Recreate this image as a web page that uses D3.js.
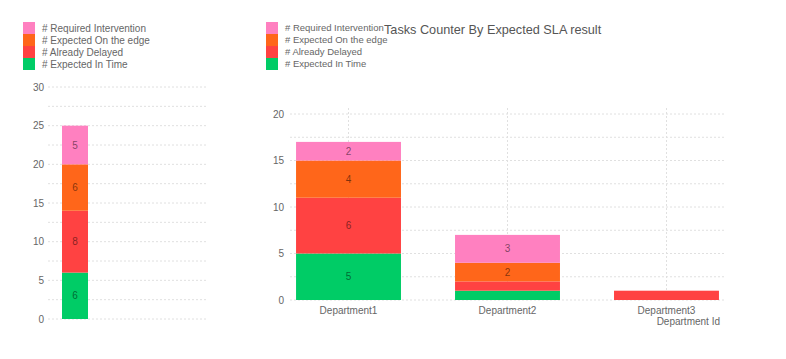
<!DOCTYPE html>
<html><head><meta charset="utf-8">
<script src="https://cdn.jsdelivr.net/npm/d3@7"></script>
<style>body{margin:0;background:#fff;} svg{display:block;font-family:"Liberation Sans",Arial,sans-serif;}</style>
</head><body>
<svg id="c" width="786" height="359"></svg>
<script>
const seriesNames = ["# Expected  In Time", "# Already Delayed", "# Expected On the edge", "# Required Intervention"];
const seriesColors = ["#00cc66", "#ff4242", "#ff661a", "#ff80c0"];
const totalValues = [6, 8, 6, 5];
const departments = ["Department1", "Department2", "Department3"];
const inTime = [5, 1, 0];
const delayed = [6, 1, 1];
const onEdge = [4, 2, 0];
const required = [2, 3, 0];
const leftTicks = [0, 5, 10, 15, 20, 25, 30];
const rightTicks = [0, 5, 10, 15, 20];
const title = "Tasks Counter By Expected SLA result";
const xTitle = "Department Id";

const svg = d3.select("#c");
const gridColor = "#e0e0e0", textColor = "#666";

function legend(x, y, fs) {
  const order = [3, 2, 1, 0];
  order.forEach((si, i) => {
    svg.append("rect").attr("x", x).attr("y", y + i * 12).attr("width", 12).attr("height", 12)
      .attr("fill", seriesColors[si]);
    svg.append("text").attr("x", x + 19).attr("y", y + i * 12 + 6).attr("dy", "0.35em")
      .attr("font-size", fs).attr("fill", textColor).text(seriesNames[si]);
  });
}

// ---- Left chart ----
const ly = d3.scaleLinear().domain([0, 30]).range([319, 87]);
const lx0 = 48, lx1 = 206;
d3.range(0, 30.1, 2.5).forEach(v => {
  svg.append("line").attr("x1", lx0).attr("x2", lx1).attr("y1", ly(v)).attr("y2", ly(v))
    .attr("stroke", gridColor).attr("stroke-dasharray", "2,2").attr("stroke-width", 1);
});
const lyAxis = svg.append("g").attr("transform", `translate(${lx0 - 4},0)`)
  .call(d3.axisLeft(ly).tickValues(leftTicks).tickSize(0).tickPadding(0));
lyAxis.select(".domain").remove();
lyAxis.selectAll("text").attr("font-size", 10).attr("fill", textColor).attr("font-family", "Liberation Sans, Arial, sans-serif");

const bx = 62, bw = 26;
let cum = 0;
totalValues.forEach((v, i) => {
  const y0 = ly(cum), y1 = ly(cum + v);
  svg.append("rect").attr("x", bx).attr("width", bw).attr("y", y1).attr("height", y0 - y1).attr("fill", seriesColors[i]);
  svg.append("text").attr("x", bx + bw / 2).attr("y", (y0 + y1) / 2).attr("dy", "0.35em")
    .attr("text-anchor", "middle").attr("font-size", 10).attr("fill", "#000").attr("fill-opacity", 0.5).text(v);
  cum += v;
});
legend(23, 22, 10);

// ---- Right chart ----
const ry = d3.scaleLinear().domain([0, 20]).range([300, 114]);
const rx0 = 290, rx1 = 725;
const rx = d3.scaleBand().domain(departments).range([rx0, rx1]).paddingInner(0.34).paddingOuter(0.038);
d3.range(0, 20.1, 2.5).forEach(v => {
  svg.append("line").attr("x1", rx0).attr("x2", rx1).attr("y1", ry(v)).attr("y2", ry(v))
    .attr("stroke", gridColor).attr("stroke-dasharray", "2,2").attr("stroke-width", 1);
});
departments.forEach(d => {
  const cx = rx(d) + rx.bandwidth() / 2;
  svg.append("line").attr("x1", cx).attr("x2", cx).attr("y1", 108).attr("y2", 300)
    .attr("stroke", gridColor).attr("stroke-dasharray", "2,2");
});
const ryAxis = svg.append("g").attr("transform", `translate(${rx0 - 6},0)`)
  .call(d3.axisLeft(ry).tickValues(rightTicks).tickSize(0).tickPadding(0));
ryAxis.select(".domain").remove();
ryAxis.selectAll("text").attr("font-size", 10).attr("fill", textColor).attr("font-family", "Liberation Sans, Arial, sans-serif");

const rows = departments.map((d, i) => ({dept: d, s0: inTime[i], s1: delayed[i], s2: onEdge[i], s3: required[i]}));
const stack = d3.stack().keys(["s0", "s1", "s2", "s3"])(rows);
stack.forEach((layer, si) => {
  layer.forEach(p => {
    const v = p[1] - p[0];
    if (v <= 0) return;
    const x = rx(p.data.dept), w = rx.bandwidth();
    svg.append("rect").attr("x", x).attr("width", w).attr("y", ry(p[1])).attr("height", ry(p[0]) - ry(p[1]))
      .attr("fill", seriesColors[si]);
    if (v >= 2) {
      svg.append("text").attr("x", x + w / 2).attr("y", (ry(p[0]) + ry(p[1])) / 2).attr("dy", "0.35em")
        .attr("text-anchor", "middle").attr("font-size", 10).attr("fill", "#000").attr("fill-opacity", 0.5).text(v);
    }
  });
});
const rxAxis = svg.append("g").attr("transform", `translate(0,300)`)
  .call(d3.axisBottom(rx).tickSize(0).tickPadding(7));
rxAxis.select(".domain").remove();
rxAxis.selectAll("text").attr("font-size", 10).attr("fill", textColor).attr("font-family", "Liberation Sans, Arial, sans-serif");
svg.append("text").attr("x", 720).attr("y", 325).attr("text-anchor", "end").attr("font-size", 10)
  .attr("fill", textColor).text(xTitle);

legend(266, 22, 9.5);
svg.append("text").attr("x", 384).attr("y", 34).attr("font-size", 12.7).attr("fill", "#555").text(title);
</script>
</body></html>
